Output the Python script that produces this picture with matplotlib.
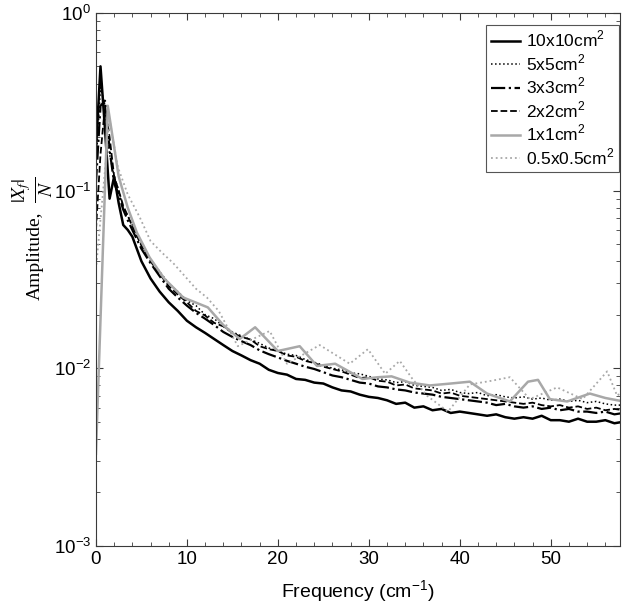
import numpy as np
import matplotlib
matplotlib.use("Agg")
import matplotlib.pyplot as plt
from matplotlib.ticker import MultipleLocator, LogLocator, NullFormatter

plt.rcParams['font.family'] = ['Liberation Sans', 'DejaVu Sans']
plt.rcParams['mathtext.fontset'] = 'stix'

# ---- data ----
f_fine = [0, 0.5, 1.0, 1.5, 2.0, 2.5, 3, 3.5, 4, 5, 6, 7, 8, 9, 10, 11, 12, 13, 14, 15,
          16, 17, 18, 19, 20, 21, 22, 23, 24, 25, 26, 27, 28, 29, 30, 31, 32, 33, 34, 35,
          36, 37, 38, 39, 40, 41, 42, 43, 44, 45, 46, 47, 48, 49, 50, 51, 52, 53, 54, 55,
          56, 57, 58]

a_10 = [0.17, 0.50, 0.22, 0.09, 0.12, 0.085, 0.064, 0.060, 0.055, 0.040, 0.032, 0.027,
        0.0235, 0.021, 0.0185, 0.017, 0.0158, 0.0146, 0.0135, 0.0125, 0.0118, 0.0111,
        0.0106, 0.0098, 0.0094, 0.0092, 0.0087, 0.0086, 0.0083, 0.0082, 0.0078, 0.0075,
        0.0074, 0.0071, 0.0069, 0.0068, 0.0066, 0.0063, 0.0064, 0.0060, 0.0061, 0.0058,
        0.0059, 0.0056, 0.0057, 0.0056, 0.0055, 0.0054, 0.0055, 0.0053, 0.0052, 0.0053,
        0.0052, 0.0054, 0.0051, 0.0051, 0.0050, 0.0052, 0.0050, 0.0050, 0.0051, 0.0049,
        0.0050]

a_5 = [0.14, 0.38, 0.30, 0.16, 0.12, 0.10, 0.080, 0.072, 0.064, 0.050, 0.041, 0.035,
       0.030, 0.027, 0.024, 0.0225, 0.020, 0.019, 0.0172, 0.016, 0.0152, 0.0145, 0.0138,
       0.013, 0.0125, 0.012, 0.0118, 0.0112, 0.0108, 0.0104, 0.0100, 0.0098, 0.0094,
       0.0093, 0.0090, 0.0087, 0.0086, 0.0083, 0.0084, 0.0080, 0.0079, 0.0078, 0.0075,
       0.0076, 0.0073, 0.0072, 0.0073, 0.0070, 0.0071, 0.0069, 0.0068, 0.0069, 0.0067,
       0.0068, 0.0066, 0.0067, 0.0065, 0.0066, 0.0064, 0.0065, 0.0063, 0.0062, 0.0062]

a_3 = [0.11, 0.30, 0.32, 0.17, 0.11, 0.095, 0.078, 0.068, 0.060, 0.047, 0.039, 0.033,
       0.028, 0.025, 0.0225, 0.0205, 0.019, 0.0175, 0.016, 0.015, 0.0142, 0.0135, 0.0126,
       0.012, 0.0115, 0.011, 0.0106, 0.0102, 0.0099, 0.0095, 0.0091, 0.0089, 0.0086,
       0.0083, 0.0082, 0.0079, 0.0078, 0.0076, 0.0075, 0.0073, 0.0072, 0.0071, 0.0069,
       0.0068, 0.0067, 0.0066, 0.0065, 0.0064, 0.0062, 0.0063, 0.0061, 0.0060, 0.0061,
       0.0059, 0.0060, 0.0058, 0.0059, 0.0057, 0.0057, 0.0056, 0.0057, 0.0055, 0.0056]

a_2 = [0.06, 0.16, 0.30, 0.20, 0.12, 0.10, 0.082, 0.072, 0.063, 0.049, 0.040, 0.034,
       0.029, 0.026, 0.0235, 0.021, 0.0198, 0.018, 0.0172, 0.0158, 0.0150, 0.0145, 0.0133,
       0.0128, 0.0125, 0.0118, 0.0116, 0.011, 0.0107, 0.0102, 0.0099, 0.0096, 0.0092,
       0.0088, 0.0089, 0.0085, 0.0084, 0.0080, 0.0081, 0.0077, 0.0076, 0.0075, 0.0072,
       0.0073, 0.0070, 0.0069, 0.0068, 0.0067, 0.0066, 0.0065, 0.0064, 0.0063, 0.0064,
       0.0062, 0.0061, 0.0062, 0.0060, 0.0061, 0.0059, 0.0060, 0.0058, 0.0059, 0.0058]

f_1 = [0, 1.3, 2.5, 3.5, 4.5, 5.9, 7.5, 9.6, 12.3, 14.0, 15.8, 17.5, 20.0, 22.4, 24.3,
       26.3, 29.3, 31.0, 32.5, 34.5, 36.7, 39.0, 41.1, 43.0, 45.5, 47.5, 48.6, 49.9,
       51.8, 54.3, 56.0, 58.0]
a_1 = [0.0033, 0.30, 0.12, 0.080, 0.058, 0.042, 0.032, 0.025, 0.022, 0.0175, 0.0146,
       0.0170, 0.0125, 0.0133, 0.0103, 0.0106, 0.0087, 0.0089, 0.0090, 0.0083, 0.0080,
       0.0082, 0.0084, 0.0072, 0.0065, 0.0084, 0.0086, 0.0067, 0.0065, 0.0072, 0.0068,
       0.0065]

f_05 = [0, 1.5, 2.4, 3.5, 4.8, 6.0, 7.2, 8.5, 10.0, 11.0, 12.2, 13.5, 15.6, 19.1, 21.0,
        24.6, 27.9, 29.9, 31.8, 33.4, 34.8, 36.4, 38.7, 41.1, 43.5, 45.5, 47.7, 50.7,
        53.5, 56.2, 57.3, 58.0]
a_05 = [0.036, 0.25, 0.136, 0.095, 0.071, 0.052, 0.045, 0.039, 0.032, 0.028, 0.025,
        0.021, 0.0133, 0.0162, 0.0106, 0.0135, 0.0106, 0.0128, 0.0093, 0.0110, 0.0087,
        0.0070, 0.0057, 0.0081, 0.0085, 0.0089, 0.0067, 0.0078, 0.0067, 0.0096, 0.0070,
        0.0075]

labels = [r'10x10cm$^{\mathdefault{2}}$', r'5x5cm$^{\mathdefault{2}}$',
          r'3x3cm$^{\mathdefault{2}}$', r'2x2cm$^{\mathdefault{2}}$',
          r'1x1cm$^{\mathdefault{2}}$', r'0.5x0.5cm$^{\mathdefault{2}}$']

fig = plt.figure(figsize=(6.23, 6.12), dpi=100)
ax = fig.add_axes([0.154, 0.108, 0.841, 0.871])

ax.plot(f_fine, a_10, color='black', lw=1.8, ls='-', label=labels[0])
ax.plot(f_fine, a_5, color='black', lw=1.1, ls=':', label=labels[1])
ax.plot(f_fine, a_3, color='black', lw=1.6, ls='-.', label=labels[2])
ax.plot(f_fine, a_2, color='black', lw=1.3, ls='--', label=labels[3])
ax.plot(f_1, a_1, color='#a8a8a8', lw=1.8, ls='-', label=labels[4])
ax.plot(f_05, a_05, color='#a8a8a8', lw=1.3, ls=':', label=labels[5])

ax.set_yscale('log')
ax.set_ylim(1e-3, 1)
ax.set_xlim(0, 57.6)
ax.xaxis.set_major_locator(MultipleLocator(10))
ax.xaxis.set_minor_locator(MultipleLocator(2))
ax.yaxis.set_minor_locator(LogLocator(base=10, subs=np.arange(2, 10)))
ax.yaxis.set_minor_formatter(NullFormatter())

for s in ax.spines.values():
    s.set_color('#3a3a3a')
    s.set_linewidth(0.8)
ax.tick_params(which='both', direction='in', top=True, right=True,
               colors='#3a3a3a', labelcolor='black', labelsize=13.5)
ax.tick_params(which='major', length=5)
ax.tick_params(which='minor', length=3)

ax.set_xlabel(r'Frequency (cm$^{\mathdefault{-1}}$)', fontsize=14, labelpad=8)

# y label: plain word plus a full-size fraction (serif, like the original)
fig.text(0.056, 0.582, 'Amplitude,', rotation=90, ha='center', va='center',
         fontsize=14, family='Liberation Serif')
fig.text(0.053, 0.690, r'$\frac{|X_f|}{N}$', rotation=90, ha='center', va='center',
         fontsize=20)

leg = ax.legend(loc='upper right', fontsize=12.5, handlelength=1.7, handletextpad=0.3,
                borderpad=0.3, labelspacing=0.2, fancybox=False, framealpha=1,
                borderaxespad=0, bbox_to_anchor=(0.999, 0.978))
leg.get_frame().set_edgecolor('#555555')
leg.get_frame().set_linewidth(0.8)

fig.savefig('out.png', dpi=100)
